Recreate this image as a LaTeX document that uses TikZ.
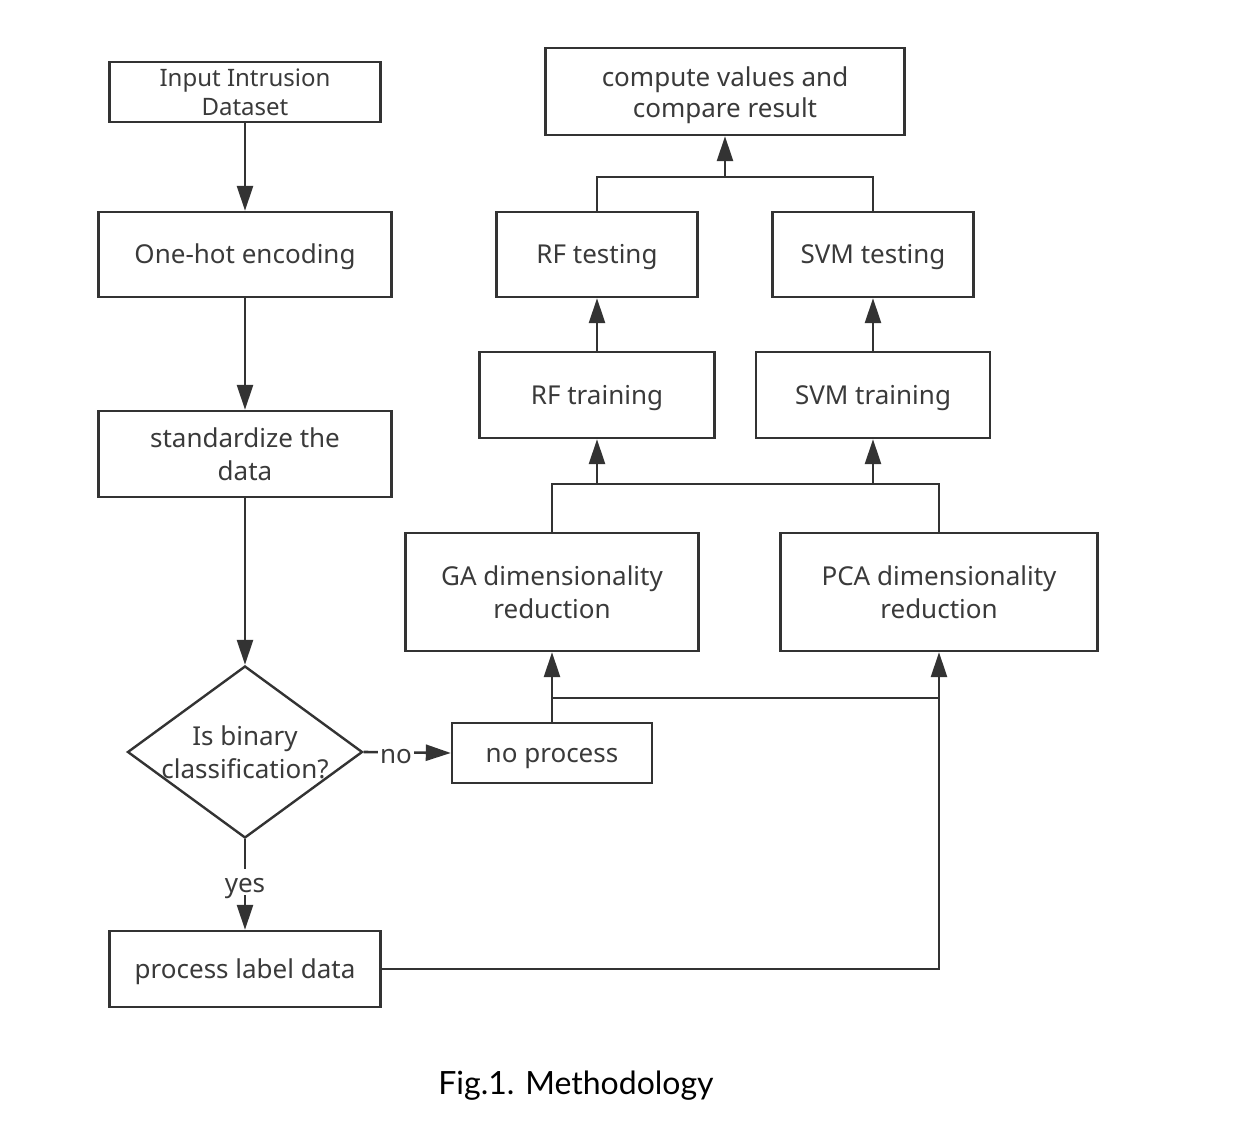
\documentclass[tikz,border=0pt]{standalone}
\usepackage{fontspec}
\setmainfont{Noto Sans}
\newfontfamily\capfont{Lato}
\usetikzlibrary{arrows.meta,shapes.geometric}
\definecolor{ln}{HTML}{333333}
\definecolor{tx}{HTML}{3A3A3A}
\tikzset{
  box/.style 2 args={draw=ln, line width=1.2pt, rectangle, inner sep=0pt,
    minimum width=#1*0.5pt, minimum height=#2*0.5pt, align=center,
    text=tx, font=\fontsize{13}{16.5}\selectfont},
  oneline/.style={text height=12pt, text depth=2.5pt},
  conn/.style={draw=ln, line width=1.3pt},
  arr/.style={conn, -{Triangle[length=12.5pt,width=8pt]}},
  lbl/.style={fill=white, inner sep=1pt, text=tx, text height=11pt, text depth=0pt, font=\fontsize{13}{16}\selectfont}
}
\begin{document}
\begin{tikzpicture}[x=0.5pt,y=-0.5pt]
\useasboundingbox (0,0) rectangle (1254,1128);
% left column
\node[box={271}{60}, font=\fontsize{12}{14.5}\selectfont] (inp) at (245,92) {Input Intrusion\\Dataset};
\node[box={293}{85}, oneline] (oh) at (245,254.5) {One-hot encoding};
\node[box={293}{86}] (std) at (245,454) {standardize the\\data};
\node[diamond, draw=ln, line width=1.2pt, inner sep=0pt, minimum width=235*0.5pt, minimum height=172*0.5pt] (dia) at (245,752) {};
\node[text=tx, align=center, font=\fontsize{13}{16.5}\selectfont] (diat) at (dia) {Is binary\\classification?};
\node[box={271}{76}, oneline] (pld) at (245,969) {process label data};
% middle/right
\node[box={200}{60}, oneline] (np) at (552,753) {no process};
\node[box={293}{118}] (ga) at (552,592) {GA dimensionality\\reduction};
\node[box={317}{118}] (pca) at (939,592) {PCA dimensionality\\reduction};
\node[box={235}{86}, oneline] (rftr) at (597,395) {RF training};
\node[box={234}{86}, oneline] (svmtr) at (873,395) {SVM training};
\node[box={201}{85}, oneline] (rfte) at (597,254.5) {RF testing};
\node[box={201}{85}, oneline] (svmte) at (873,254.5) {SVM testing};
\node[box={359}{87}, label={[yshift=-2pt, align=center, text=tx, font=\fontsize{13}{15.5}\selectfont]center:compute values and\\compare result}] (comp) at (725,91.5) {};
% caption
\node[text=black, font=\capfont\fontsize{16}{19}\selectfont] (cap) at (576,1086) {Fig.1. Methodology};
% connectors
\draw[arr] (inp) -- (oh);
\draw[arr] (oh) -- (std);
\draw[arr] (std) -- (dia.north);
\draw[arr] (dia.east) -- node[lbl, pos=0.37] {no} (np.west);
\draw[arr] (dia.south) -- node[lbl, pos=0.47] {yes} (pld.north);
\draw[arr] (pld.east) -| (pca.south);
\draw[arr] (np.north) -- (ga.south);
\coordinate (j1) at (552,698);
\draw[conn] (j1) -- (j1 -| pca.south);
\coordinate (j2) at (552,484);
\draw[conn] (ga.north) -- (j2) -- (j2 -| pca.north) -- (pca.north);
\draw[arr] (j2 -| rftr.south) -- (rftr.south);
\draw[arr] (j2 -| svmtr.south) -- (svmtr.south);
\draw[arr] (rftr) -- (rfte);
\draw[arr] (svmtr) -- (svmte);
\coordinate (j3) at (725,177);
\draw[conn] (rfte.north) -- (rfte.north |- j3) -- (svmte.north |- j3) -- (svmte.north);
\draw[arr] (j3) -- (comp.south);
\end{tikzpicture}
\end{document}
